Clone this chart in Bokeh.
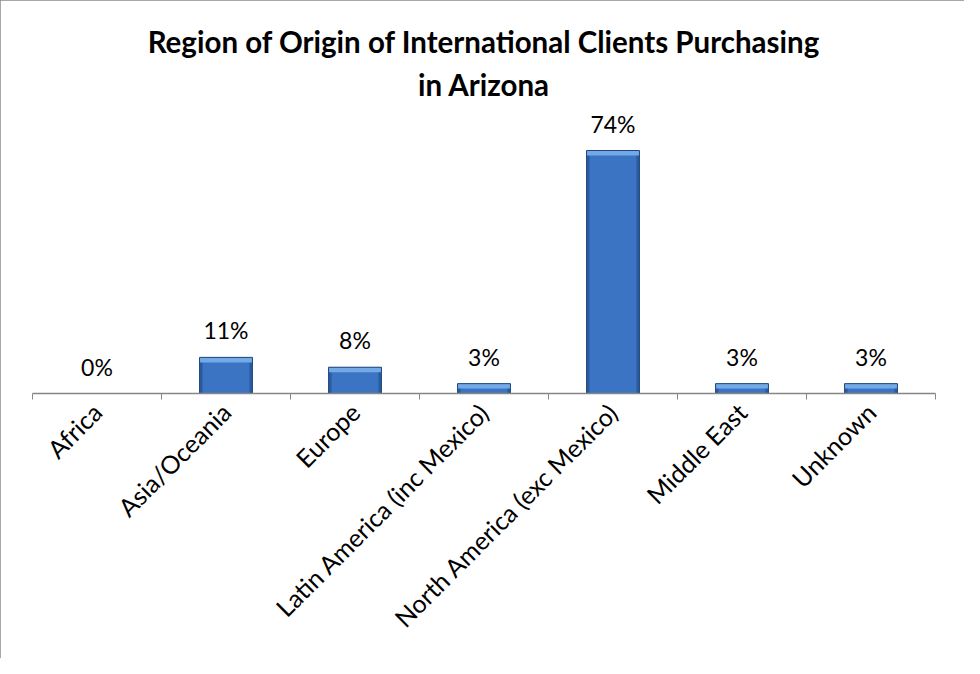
import numpy as np
from math import pi
from bokeh.plotting import figure
from bokeh.models import ColumnDataSource, Range1d, FixedTicker, LabelSet, Title
from bokeh.core.properties import value
from bokeh.embed import file_html
from bokeh.resources import INLINE

categories = ["Africa", "Asia/Oceania", "Europe", "Latin America (inc Mexico)",
              "North America (exc Mexico)", "Middle East", "Unknown"]
shares = [0, 11, 8, 3, 74, 3, 3]
title_lines = ["Region of Origin of International Clients Purchasing", "in Arizona"]

FONT = "Lato"
W, H = 964, 658
FRAME_W, FRAME_H = 903, 285
Y_MAX = 86.8
px_y = FRAME_H / Y_MAX
px_x = FRAME_W / len(categories)
BAR_W = 0.41

centers = np.arange(len(categories)) + 0.5
bounds = np.arange(len(categories) + 1).astype(float)
vals = np.array(shares, dtype=float)
shown = vals > 0
strip = np.minimum(5 / px_y, vals / 2)

bars = ColumnDataSource(dict(x=centers[shown], top=vals[shown], sbot=(vals - strip)[shown]))
labs = ColumnDataSource(dict(x=centers, y=vals, t=[f"{v}%" for v in shares]))

p = figure(width=W, height=H,
           x_range=Range1d(0, len(categories)), y_range=Range1d(0, Y_MAX),
           output_backend="svg", toolbar_location=None,
           min_border_left=32, min_border_right=W - 32 - FRAME_W,
           min_border_top=108, min_border_bottom=H - 108 - FRAME_H)
p.background_fill_color = "white"
p.border_fill_color = "white"
p.outline_line_color = None
p.xgrid.grid_line_color = None
p.ygrid.grid_line_color = None
p.yaxis.visible = False
p.styles = {"outline": "2px solid #8a8a8a", "outline-offset": "-2px"}

# bars: darker edges, main face, light bevel on top
p.vbar(x="x", width=BAR_W, top="top", bottom=0, source=bars,
       fill_color="#2a5b9e", line_color=None)
p.vbar(x="x", width=BAR_W - 6 / px_x, top="top", bottom=0, source=bars,
       fill_color="#3b74c2", line_color=None)
p.vbar(x="x", width=BAR_W, top="top", bottom="sbot", source=bars,
       fill_color="#74a9e8", line_color=None)
p.vbar(x="x", width=BAR_W, top="top", bottom=0, source=bars,
       fill_color=None, line_color="#1d477f", line_width=1)

ax = p.xaxis[0]
ax.ticker = FixedTicker(ticks=list(centers), minor_ticks=list(bounds))
ax.major_label_overrides = {float(c): name for c, name in zip(centers, categories)}
ax.major_label_orientation = pi / 4
ax.major_tick_line_color = None
ax.minor_tick_line_color = "#868686"
ax.minor_tick_in = 0
ax.minor_tick_out = 6
ax.axis_line_color = "#868686"
ax.axis_line_width = 1.5
ax.major_label_standoff = 8
ax.major_label_text_font = FONT
ax.major_label_text_font_size = "25px"
ax.major_label_text_color = "black"

p.add_layout(LabelSet(x="x", y="y", text="t", source=labs,
                      text_align="center", text_baseline="alphabetic",
                      y_offset=18, text_font=value(FONT),
                      text_font_size="23px", text_color="black"))

for txt, so in zip(reversed(title_lines), [13, 0]):
    p.add_layout(Title(text=txt, align="center", text_font=FONT,
                       text_font_size="29.5px", text_font_style="bold",
                       text_color="black", standoff=so), "above")

open("out.html", "w").write(file_html(p, INLINE))
